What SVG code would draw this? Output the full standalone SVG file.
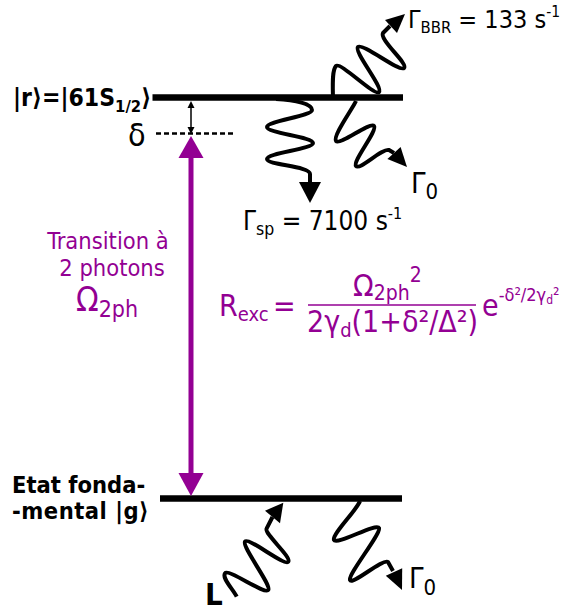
<svg xmlns="http://www.w3.org/2000/svg" width="571" height="612" viewBox="0 0 571 612">
<style>
text{font-family:"DejaVu Sans Condensed","DejaVu Sans",sans-serif;font-stretch:condensed;fill:#000}
.b{font-weight:bold}
.p{fill:#930093}
.lvl{stroke:#000;stroke-width:6.5;fill:none}
.wave{stroke:#000;stroke-width:4;fill:none;stroke-linejoin:round;stroke-linecap:butt}
.head{fill:#000}
</style>
<rect width="571" height="612" fill="#fff"/>

<g id="level-r">
<line class="lvl" x1="152.5" y1="97.5" x2="403" y2="97.5"/>
<text class="b" x="13" y="106" font-size="24.5">|r⟩=|61S<tspan font-size="16.5" dy="5.5">1/2</tspan><tspan dy="-5.5">⟩</tspan></text>
</g>

<g id="level-g">
<line class="lvl" x1="160" y1="498.5" x2="402" y2="498.5"/>
<text class="b" x="12" y="493" font-size="23.5">Etat fonda-</text>
<text class="b" x="12" y="519" font-size="23.5" letter-spacing="0.5">-mental |g⟩</text>
</g>

<g id="detuning">
<line x1="156" y1="133.5" x2="235" y2="133.5" stroke="#000" stroke-width="2.3" stroke-dasharray="5,3"/>
<text x="128" y="145.5" font-size="32">δ</text>
</g>

<g id="labels">
<text x="408" y="28" font-size="25">Γ<tspan font-size="16.5" dy="5">BBR</tspan><tspan dy="-5"> = 133 s</tspan><tspan font-size="15.5" dy="-11">-1</tspan></text>
<text x="243" y="230" font-size="26">Γ<tspan font-size="17.5" dy="5">sp</tspan><tspan dy="-5"> = 7100 s</tspan><tspan font-size="16" dy="-11">-1</tspan></text>
<text x="411" y="193" font-size="29">Γ<tspan font-size="22" dy="6">0</tspan></text>
<text x="409" y="588" font-size="29">Γ<tspan font-size="22" dy="7">0</tspan></text>
<text class="b" x="205" y="605" font-size="31">L</text>
</g>

<g id="transition">
<text class="p" x="108" y="249" font-size="23.5" text-anchor="middle">Transition à</text>
<text class="p" x="112" y="275.5" font-size="23.5" text-anchor="middle">2 photons</text>
<text class="p" x="76" y="311" font-size="33">Ω<tspan font-size="23" dy="6">2ph</tspan></text>
</g>

<g id="formula">
<text class="p" x="219" y="316" font-size="30">R<tspan font-size="20" dy="5">exc</tspan></text>
<text class="p" x="273" y="316" font-size="30">=</text>
<text class="p" x="353" y="296" font-size="30">Ω<tspan font-size="21" dy="4">2ph</tspan><tspan font-size="21" dy="-18">2</tspan></text>
<line x1="308" y1="305" x2="476" y2="305" stroke="#930093" stroke-width="1.6"/>
<text class="p" x="307" y="332" font-size="30">2γ<tspan font-size="20" dy="5">d</tspan><tspan dy="-5">(1+δ²/Δ²)</tspan></text>
<text class="p" x="482" y="316" font-size="30">e<tspan font-size="18" dy="-15">-δ²/2γ</tspan><tspan font-size="12" dy="3">d</tspan><tspan font-size="18" dy="-3">²</tspan></text>
</g>

<g id="connectors">
<g id="delta-arrow">
<line x1="191" y1="104" x2="191" y2="131" stroke="#000" stroke-width="1.5"/>
<polygon class="head" points="191,101 187.5,108 194.5,108"/>
<polygon class="head" points="191,134 187.5,127 194.5,127"/>
</g>
<g id="two-photon-arrow">
<line x1="191" y1="156" x2="191" y2="475" stroke="#930093" stroke-width="5"/>
<polygon fill="#930093" points="191,136 178.5,158 203.5,158"/>
<polygon fill="#930093" points="191,496 178.5,473 203.5,473"/>
</g>
<g id="wave-bbr">
<path class="wave" d="M333,100 C333,90 331.5,70.5 336,66 C340.5,61.5 374.5,96.5 379,92 C383.5,87.5 353.5,51.5 358,47 C362.5,42.5 399.5,72.5 404,68 C408.5,63.5 379,40 383,33 L390,26"/>
<polygon class="head" points="405,14 385,20 397,33"/>
</g>
<g id="wave-sp">
<path class="wave" d="M276,99 C296,100 312,104 312,110 C312,116 267,121 267,127 C267,133 313,137 313,143 C313,149 267,153 267,159 C267,165 310,166 310,174 L310,184"/>
<polygon class="head" points="299,182 321,182 310,203"/>
</g>
<g id="wave-gamma0-top">
<path class="wave" d="M356,101 C353,108 332.3,136.3 336,141 C339.7,145.7 370.3,121.3 374,126 C377.7,130.7 352.3,161.3 356,166 C359.7,170.7 382,148 389,150 L394,153"/>
<polygon class="head" points="407,167 400.6,146.9 387.4,159.1"/>
</g>
<g id="wave-laser">
<path class="wave" d="M236.7,596.7 C233,589 221.7,578.3 225,573.3 C228.3,568.3 265,595 268.3,590 C271.6,585 241.7,546.7 245,541.7 C248.3,536.7 285,566.7 288.3,561.7 C291.6,556.7 263.4,533.3 266.7,528.3 L272.5,517"/>
<polygon class="head" points="283.3,502.7 265,510.7 280,523.3"/>
</g>
<g id="wave-gamma0-bottom">
<path class="wave" d="M360,501 C357,510 331.8,534.4 334,540 C336.2,545.6 376.8,522.4 379,528 C381.2,533.6 347.8,574.4 350,580 C352.2,585.6 383,558 388,562 L393,571"/>
<polygon class="head" points="402,590 402.2,568.3 385.8,575.7"/>
</g>
</g>
</svg>
